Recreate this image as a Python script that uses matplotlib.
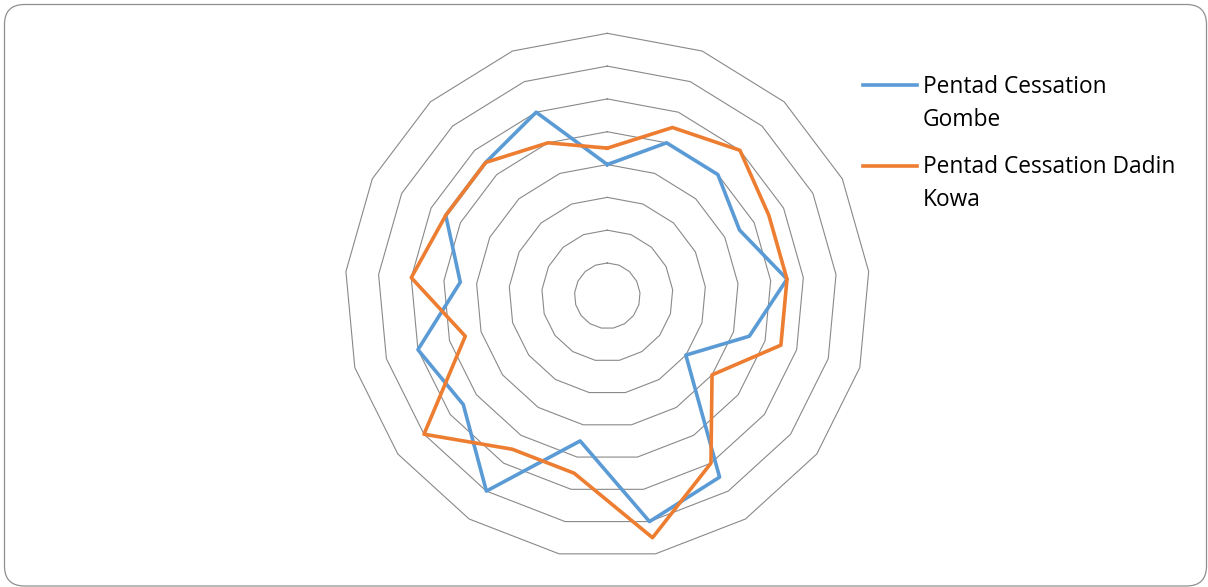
import numpy as np
import matplotlib
matplotlib.use("Agg")
import matplotlib.pyplot as plt
from matplotlib.patches import FancyBboxPatch
from matplotlib.lines import Line2D

# ---- data ----
pentads = [f"P{i}" for i in range(1, 18)]
gombe = [8, 10, 10, 9, 11, 9, 6, 13, 14, 9, 14, 11, 12, 9, 11, 11, 12]
dadin_kowa = [9, 11, 12, 11, 11, 11, 8, 12, 15, 11, 11, 14, 9, 12, 11, 11, 10]
ring_values = [2, 4, 6, 8, 10, 12, 14, 16]
series_names = [["Pentad Cessation", "Gombe"], ["Pentad Cessation Dadin", "Kowa"]]
series_colors = ["#5B9BD5", "#ED7D31"]

W, H = 1208, 587
fig = plt.figure(figsize=(W / 100, H / 100), dpi=100)
fig.patch.set_facecolor("white")

# rounded chart border (pixel coords)
border = FancyBboxPatch((4.5, 1.0), 1202.0, 581.5,
                        boxstyle="round,pad=0,rounding_size=20",
                        transform=None, facecolor="none",
                        edgecolor="#8f8f8f", linewidth=0.9)
fig.add_artist(border)

cx, cy, R = 607.3, 295.8, 262.5
ax = fig.add_axes([(cx - R) / W, (H - cy - R) / H, 2 * R / W, 2 * R / H],
                  projection="polar")
ax.set_theta_zero_location("N")
ax.set_theta_direction(-1)
ax.set_ylim(0, ring_values[-1])
ax.grid(False)
ax.set_xticks([])
ax.set_yticks([])
ax.spines["polar"].set_visible(False)
ax.patch.set_alpha(0)

n = len(pentads)
theta = np.linspace(0, 2 * np.pi, n, endpoint=False)
theta_c = np.append(theta, theta[0])

for rv in ring_values:
    ax.plot(theta_c, [rv] * (n + 1), color="#898989", lw=0.8, clip_on=False,
            zorder=1)

for vals, col in zip([gombe, dadin_kowa], series_colors):
    v = list(vals) + [vals[0]]
    ax.plot(theta_c, v, color=col, lw=2.6, solid_joinstyle="round",
            clip_on=False, zorder=3)

# legend (drawn manually so the key aligns with the first text line)
fs = 16.4
key_y = [85, 166]
base_y = [[93.3, 125.7], [173.3, 205.7]]
for name, col, ky, bys in zip(series_names, series_colors, key_y, base_y):
    fig.add_artist(Line2D([863 / W, 917 / W], [(H - ky) / H] * 2,
                          color=col, lw=2.6, transform=fig.transFigure))
    for line, by in zip(name, bys):
        fig.text(922.7 / W, (H - by) / H, line, fontsize=fs,
                 family=["Open Sans", "DejaVu Sans"], va="baseline",
                 ha="left", color="#000000")

fig.savefig("out.png", dpi=100)
